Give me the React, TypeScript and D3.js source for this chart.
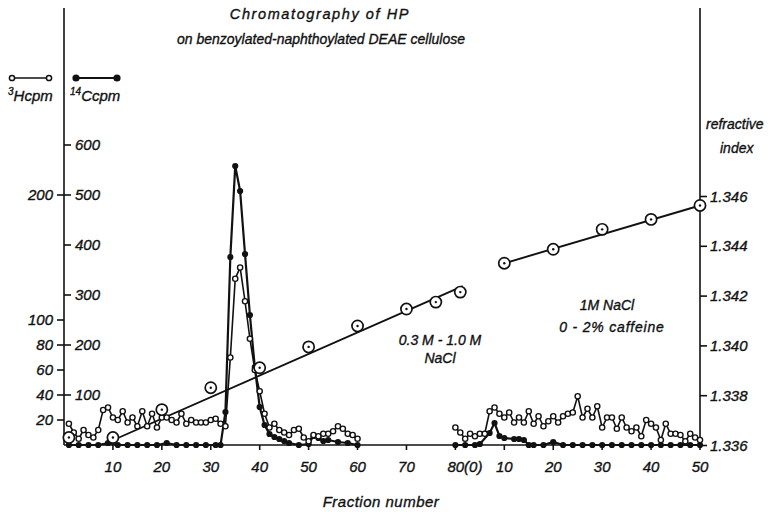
import React from "react";
import * as d3 from "d3";

// ---- data ----
const h3Fractions1 = d3.range(1, 61);
const h3Values1 = [17,10,5,12,8,6,12,28,30,22,20,27,18,22,15,27,15,25,14,22,22,20,18,25,17,20,18,18,18,20,21,17,15,70,133,142,115,85,60,43,25,14,17,12,10,8,12,13,6,3,8,7,9,9,11,15,13,9,8,5];
const h3Offset2 = 80;
const h3Values2 = [14,10,5,9,7,9,9,27,30,25,22,26,18,22,18,27,17,23,15,19,23,18,23,25,26,39,22,29,22,31,14,22,22,13,22,14,11,14,7,20,17,14,4,17,9,9,8,3,9,6,4];

const c14Fractions1 = [1,3,5,7,9,11,13,15,17,19,21,23,25,27,29,31,32,33,34,35,36,37,38,39,40,41,42,43,44,45,46,48,50,51,52,53,54,56,58,60];
const c14Values1 = [0,0,0,0,4,0,0,0,0,0,4,0,0,0,0,0,0,66,376,558,508,382,260,156,76,40,22,16,12,8,4,0,2,18,14,8,10,6,4,0];
const c14Fractions2 = [0,2,4,5,7,8,9,10,12,13,14,15,16,18,20,22,24,26,28,30,32,34,36,38,40,42,44,46,48,50];
const c14Values2 = [0,0,0,2,24,44,18,14,12,12,10,0,0,0,6,0,0,0,0,0,0,0,0,0,0,0,0,0,0,0];

const riFractions1 = [1,10,20,30,40,50,60,70,76,81];
const riValues1 = [1.33632,1.33632,1.33744,1.33832,1.33912,1.33996,1.3408,1.34148,1.34176,1.34216];
const riFractions2 = [90,100,110,120,130];
const riValues2 = [1.34332,1.34388,1.34468,1.34508,1.34564];
const riFit1 = [[8,1.33604],[81.5,1.3424]];
const riFit2 = [[90,1.34332],[130,1.34564]];

const xTickValues = [10,20,30,40,50,60,70,80,90,100,110,120,130];
const xTickLabels = ["10","20","30","40","50","60","70","80(0)","10","20","30","40","50"];
const h3Ticks = [20,40,60,80,100,200];
const c14Ticks = [100,200,300,400,500,600];
const riTicks = [1.336,1.338,1.340,1.342,1.344,1.346];

const FONT = "'Liberation Sans', Arial, sans-serif";

export default function App() {
  const x = d3.scaleLinear().domain([0, 130]).range([64, 700]);
  const yH = d3.scaleLinear().domain([0, 200]).range([445, 195]);
  const yC = d3.scaleLinear().domain([0, 600]).range([445, 145]);
  const yR = d3.scaleLinear().domain([1.336, 1.346]).range([445.5, 196.5]);
  const base = 445;

  const h3Run1 = h3Fractions1.map((f, i) => [f, h3Values1[i]]);
  const h3Run2 = h3Values2.map((v, i) => [h3Offset2 + i, v]);
  const c14Run1 = c14Fractions1.map((f, i) => [f, c14Values1[i]]);
  const c14Run2 = c14Fractions2.map((f, i) => [h3Offset2 + f, c14Values2[i]]);
  const ri1 = riFractions1.map((f, i) => [f, riValues1[i]]);
  const ri2 = riFractions2.map((f, i) => [f, riValues2[i]]);

  const lineH = d3.line<number[]>().x(d => x(d[0])).y(d => yH(d[1]));
  const lineC = d3.line<number[]>().x(d => x(d[0])).y(d => yC(d[1]));
  const lineR = d3.line<number[]>().x(d => x(d[0])).y(d => yR(d[1]));

  const txt = { fontFamily: FONT, fontStyle: "italic" as const, fill: "#111", stroke: "#111", strokeWidth: 0.35 };

  return (
    <svg width={779} height={512} style={{ position: "absolute", left: 0, top: 0, background: "#fff" }}>
      <rect width={779} height={512} fill="#fff" />
      {/* title */}
      <text x={320} y={19} textAnchor="middle" fontSize={14.5} letterSpacing={1.6} {...txt}>Chromatography of HP</text>
      <text x={321} y={44} textAnchor="middle" fontSize={14} {...txt}>on benzoylated-naphthoylated DEAE cellulose</text>

      {/* legend */}
      <line x1={12} x2={49} y1={78} y2={78} stroke="#111" strokeWidth={1.5} />
      <circle cx={12} cy={78} r={2.6} fill="#fff" stroke="#111" strokeWidth={1.5} />
      <circle cx={49} cy={78} r={2.6} fill="#fff" stroke="#111" strokeWidth={1.5} />
      <text x={8} y={101} fontSize={15} {...txt}>
        <tspan fontSize={10} dy={-6}>3</tspan><tspan dy={6}>Hcpm</tspan>
      </text>
      <line x1={76} x2={117} y1={78} y2={78} stroke="#111" strokeWidth={2} />
      <circle cx={76} cy={78} r={3.6} fill="#111" />
      <circle cx={117} cy={78} r={3.6} fill="#111" />
      <text x={70} y={101} fontSize={15} {...txt}>
        <tspan fontSize={10} dy={-6}>14</tspan><tspan dy={6}>Ccpm</tspan>
      </text>

      {/* axes */}
      <line x1={64} x2={64} y1={8} y2={base} stroke="#111" strokeWidth={1.6} />
      <line x1={700} x2={700} y1={8} y2={base} stroke="#111" strokeWidth={1.6} />
      <line x1={64} x2={700} y1={base} y2={base} stroke="#111" strokeWidth={1.6} />

      {h3Ticks.map(t => (
        <g key={"h" + t}>
          <line x1={57} x2={64} y1={yH(t)} y2={yH(t)} stroke="#111" strokeWidth={1.6} />
          <text x={53} y={yH(t) + 5} textAnchor="end" fontSize={15} {...txt}>{t}</text>
        </g>
      ))}
      {c14Ticks.map(t => (
        <g key={"c" + t}>
          <line x1={64} x2={71} y1={yC(t)} y2={yC(t)} stroke="#111" strokeWidth={1.6} />
          <text x={75} y={yC(t) + 5} textAnchor="start" fontSize={15} {...txt}>{t}</text>
        </g>
      ))}
      {riTicks.map(t => (
        <g key={"r" + t}>
          <line x1={700} x2={707} y1={yR(t)} y2={yR(t)} stroke="#111" strokeWidth={1.6} />
          <text x={710} y={yR(t) + 5} textAnchor="start" fontSize={15} {...txt}>{t.toFixed(3)}</text>
        </g>
      ))}
      {xTickValues.map((t, i) => (
        <g key={"x" + t}>
          <line x1={x(t)} x2={x(t)} y1={base} y2={base + 5} stroke="#111" strokeWidth={1.6} />
          <text x={t === 80 ? x(t) - 8 : x(t)} y={472} textAnchor={t === 80 ? "start" : "middle"} fontSize={15} {...txt}>{xTickLabels[i]}</text>
        </g>
      ))}

      {/* axis titles */}
      <text x={706} y={129} fontSize={14} {...txt}>refractive</text>
      <text x={720} y={153} fontSize={14} {...txt}>index</text>
      <text x={381} y={507} textAnchor="middle" fontSize={15} letterSpacing={0.5} {...txt}>Fraction number</text>

      {/* annotations */}
      <text x={440} y={345} textAnchor="middle" fontSize={14} {...txt}>0.3 M - 1.0 M</text>
      <text x={440} y={363} textAnchor="middle" fontSize={14} {...txt}>NaCl</text>
      <text x={607} y={310} textAnchor="middle" fontSize={14} {...txt}>1M NaCl</text>
      <text x={612} y={332} textAnchor="middle" fontSize={14} letterSpacing={0.8} {...txt}>0 - 2% caffeine</text>

      {/* refractive index */}
      <path d={lineR(riFit1) || ""} fill="none" stroke="#111" strokeWidth={1.9} />
      <path d={lineR(riFit2) || ""} fill="none" stroke="#111" strokeWidth={1.9} />

      {/* 14C */}
      {[c14Run1, c14Run2].map((run, k) => (
        <g key={"cr" + k}>
          <path d={lineC(run) || ""} fill="none" stroke="#111" strokeWidth={2.2} />
          {run.map((d, i) => <circle key={i} cx={x(d[0])} cy={yC(d[1])} r={3.1} fill="#111" />)}
        </g>
      ))}

      {/* 3H */}
      {[h3Run1, h3Run2].map((run, k) => (
        <g key={"hr" + k}>
          <path d={lineH(run) || ""} fill="none" stroke="#111" strokeWidth={1.6} />
          {run.map((d, i) => <circle key={i} cx={x(d[0])} cy={yH(d[1])} r={2.6} fill="#fff" stroke="#111" strokeWidth={1.4} />)}
        </g>
      ))}

      {/* RI circles */}
      {[...ri1, ...ri2].map((d, i) => (
        <g key={"ri" + i}>
          <circle cx={x(d[0])} cy={yR(d[1])} r={5.6} fill="#fff" stroke="#111" strokeWidth={1.7} />
          <circle cx={x(d[0])} cy={yR(d[1])} r={1.2} fill="#111" />
        </g>
      ))}
    </svg>
  );
}
